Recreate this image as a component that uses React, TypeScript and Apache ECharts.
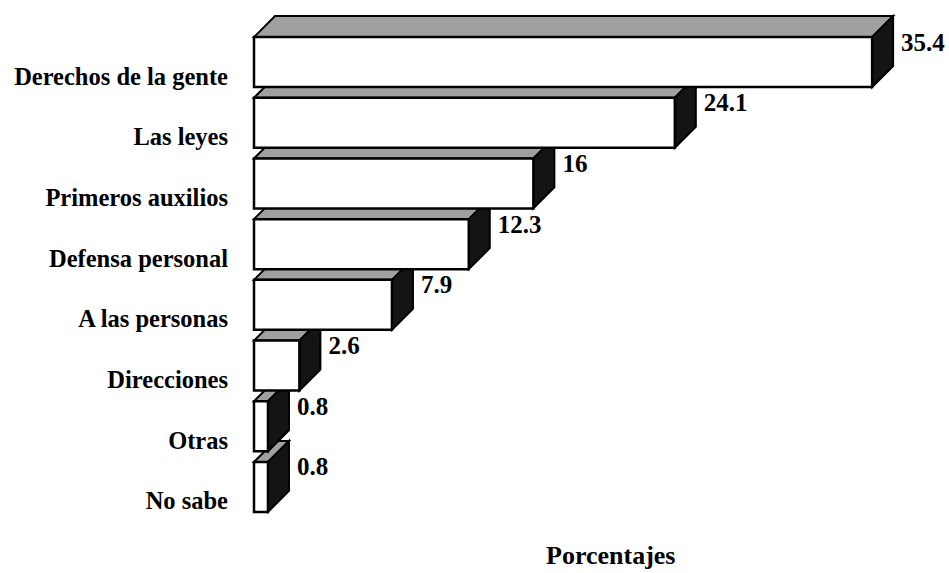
import React, { useEffect, useRef } from "react";
import * as echarts from "echarts";

const categories = [
  "Derechos de la gente",
  "Las leyes",
  "Primeros auxilios",
  "Defensa personal",
  "A las personas",
  "Direcciones",
  "Otras",
  "No sabe",
];
const values = [35.4, 24.1, 16, 12.3, 7.9, 2.6, 0.8, 0.8];
const valueLabels = ["35.4", "24.1", "16", "12.3", "7.9", "2.6", "0.8", "0.8"];
const axisTitle = "Porcentajes";

const FONT = "Liberation Serif, Times New Roman, serif";

export default function App() {
  const ref = useRef<HTMLDivElement>(null);

  useEffect(() => {
    if (!ref.current) return;
    const chart = echarts.init(ref.current, undefined, { renderer: "svg" });
    const N = categories.length;
    const option = {
      animation: false,
      backgroundColor: "#ffffff",
      textStyle: { fontFamily: FONT },
      title: {
        text: axisTitle,
        left: 541,
        top: 537,
        textStyle: { fontFamily: FONT, fontWeight: "bold", fontSize: 26, color: "#000" },
      },
      grid: { left: 254, right: 66.4, top: 45.7, bottom: 41.7, containLabel: false },
      xAxis: {
        type: "value",
        min: 0,
        max: 36,
        show: false,
      },
      yAxis: {
        type: "category",
        data: categories,
        inverse: true,
        axisLine: { show: false },
        axisTick: { show: false },
        splitLine: { show: false },
        axisLabel: {
          margin: 26,
          fontFamily: FONT,
          fontWeight: "bold",
          fontSize: 24.5,
          color: "#000",
        },
      },
      series: [
        {
          type: "custom",
          data: values.map((v, i) => [v, i]),
          encode: { x: 0, y: 1 },
          renderItem: (params: any, api: any) => {
            const v = api.value(0);
            const idx = api.value(1);
            const p0 = api.coord([0, idx]);
            const p1 = api.coord([v, idx]);
            const h = 50;
            const d = 21;
            const x0 = p0[0];
            const x1 = p1[0];
            const cy = p0[1] - 14;
            const yt = cy - h / 2;
            const yb = cy + h / 2;
            const z = (N - idx) * 10;
            return {
              type: "group",
              children: [
                {
                  type: "polygon",
                  z2: z,
                  shape: { points: [[x0, yt], [x0 + d, yt - d], [x1 + d, yt - d], [x1, yt]] },
                  style: { fill: "#a0a0a0", stroke: "#000", lineWidth: 2 },
                },
                {
                  type: "polygon",
                  z2: z + 1,
                  shape: { points: [[x1, yt], [x1 + d, yt - d], [x1 + d, yb - d], [x1, yb]] },
                  style: { fill: "#141414", stroke: "#000", lineWidth: 2 },
                },
                {
                  type: "rect",
                  z2: z + 2,
                  shape: { x: x0, y: yt, width: x1 - x0, height: h },
                  style: { fill: "#ffffff", stroke: "#000", lineWidth: 2.5 },
                },
                {
                  type: "text",
                  z2: z + 3,
                  x: x1 + d + 8,
                  y: yt + 5,
                  style: {
                    text: valueLabels[params.dataIndex],
                    fontFamily: FONT,
                    fontWeight: "bold",
                    fontSize: 25,
                    fill: "#000",
                    verticalAlign: "middle",
                    align: "left",
                  },
                },
              ],
            };
          },
        },
      ],
    };
    chart.setOption(option as any);
    return () => chart.dispose();
  }, []);

  return (
    <div
      ref={ref}
      style={{ position: "fixed", left: 0, top: 0, width: 949, height: 573, background: "#fff" }}
    />
  );
}
